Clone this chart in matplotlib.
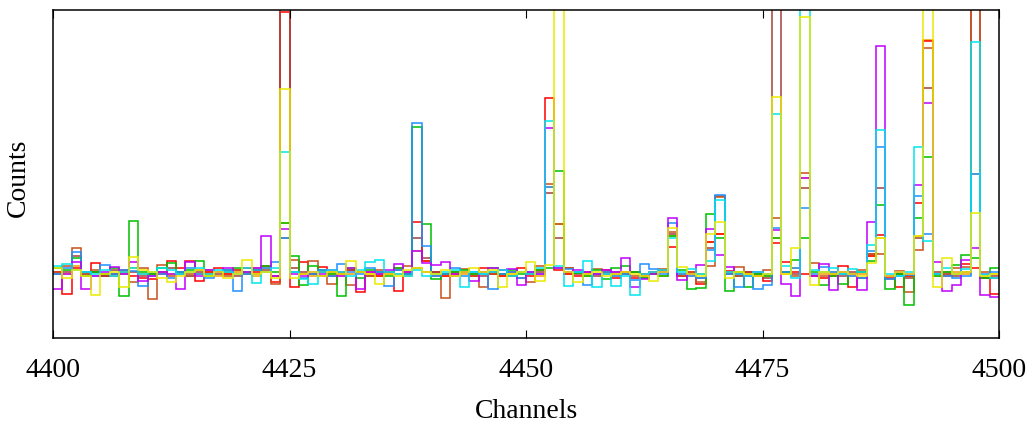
import numpy as np
import matplotlib
matplotlib.use("Agg")
import matplotlib.pyplot as plt

# channel bins 4400..4500, one count per bin (arbitrary units)
edges = np.arange(4400, 4501)

orange = [66, 64, 72, 64, 66, 62, 64, 66, 70, 64, 62, 66, 64, 66, 62, 64, 66, 62, 64, 66,
          64, 62, 70, 62, 115, 66, 64, 62, 66, 64, 62, 64, 66, 64, 62, 66, 64, 62, 87, 77,
          64, 62, 66, 64, 62, 66, 64, 62, 64, 66, 64, 62, 151, 114, 64, 66, 62, 64, 66, 62,
          64, 66, 62, 64, 62, 102, 64, 62, 64, 96, 104, 64, 62, 64, 66, 62, 100, 64, 70, 160,
          62, 64, 66, 64, 62, 64, 82, 100, 62, 64, 62, 102, 298, 62, 64, 66, 64, 164, 62, 64]
sienna = [64, 66, 82, 64, 66, 62, 68, 64, 66, 62, 64, 66, 70, 64, 62, 66, 68, 64, 66, 62,
          66, 64, 68, 62, 400, 70, 66, 64, 62, 66, 64, 68, 66, 62, 64, 66, 68, 64, 100, 80,
          66, 64, 62, 66, 64, 62, 66, 64, 62, 60, 64, 66, 145, 100, 70, 64, 66, 62, 64, 66,
          64, 66, 62, 64, 66, 104, 62, 64, 60, 90, 142, 64, 62, 66, 64, 60, 400, 66, 64, 150,
          62, 66, 64, 62, 66, 60, 84, 150, 62, 64, 60, 100, 250, 66, 64, 62, 66, 400, 60, 62]
brown = [66, 72, 90, 66, 68, 64, 62, 66, 56, 70, 39, 73, 62, 66, 64, 68, 64, 66, 62, 68,
         64, 70, 66, 54, 100, 78, 64, 77, 66, 54, 64, 53, 66, 62, 68, 66, 70, 72, 70, 66,
         62, 40, 66, 69, 62, 51, 64, 68, 62, 66, 56, 72, 154, 114, 70, 66, 64, 69, 66, 64,
         66, 62, 60, 64, 69, 106, 62, 66, 56, 72, 141, 66, 71, 64, 62, 68, 120, 66, 62, 165,
         75, 62, 64, 66, 64, 68, 84, 84, 59, 67, 46, 88, 290, 64, 66, 70, 71, 400, 66, 60]
red = [66, 44, 70, 66, 75, 62, 64, 68, 62, 60, 59, 64, 77, 70, 77, 57, 66, 70, 64, 68,
       70, 66, 72, 56, 326, 51, 76, 64, 71, 62, 66, 68, 46, 66, 62, 64, 47, 66, 116, 77,
       66, 62, 64, 66, 62, 70, 64, 62, 66, 70, 62, 68, 240, 68, 64, 62, 66, 64, 68, 60,
       66, 60, 64, 66, 68, 91, 62, 66, 54, 96, 104, 67, 64, 66, 62, 57, 95, 76, 66, 64,
       62, 60, 62, 72, 51, 66, 82, 103, 60, 51, 62, 135, 297, 64, 62, 64, 74, 70, 60, 44]
green = [70, 68, 80, 62, 66, 64, 70, 42, 117, 66, 64, 70, 75, 66, 68, 77, 62, 66, 68, 70,
         66, 68, 72, 66, 115, 82, 53, 72, 68, 64, 42, 70, 60, 68, 66, 62, 70, 64, 211, 114,
         59, 64, 66, 68, 64, 66, 70, 64, 68, 64, 66, 68, 70, 167, 66, 65, 62, 68, 59, 70,
         72, 66, 60, 64, 62, 102, 68, 49, 50, 124, 100, 47, 66, 51, 64, 62, 100, 66, 78, 100,
         66, 53, 62, 54, 64, 66, 77, 133, 49, 64, 33, 120, 181, 62, 66, 73, 83, 80, 60, 70]
blue = [64, 70, 86, 66, 62, 73, 64, 68, 67, 52, 62, 64, 60, 66, 70, 64, 60, 66, 68, 47,
        64, 68, 70, 76, 100, 66, 60, 64, 68, 62, 74, 66, 64, 70, 66, 52, 68, 64, 215, 92,
        62, 64, 70, 62, 66, 64, 49, 64, 66, 60, 66, 64, 151, 70, 69, 66, 53, 64, 66, 62,
        64, 58, 74, 69, 64, 115, 64, 62, 60, 88, 143, 64, 51, 62, 49, 53, 110, 66, 70, 130,
        64, 71, 66, 64, 62, 60, 87, 191, 59, 62, 63, 142, 104, 64, 62, 60, 62, 164, 64, 66]
magenta = [49, 64, 76, 49, 62, 66, 71, 64, 76, 57, 62, 66, 64, 49, 76, 62, 68, 66, 70, 64,
           66, 70, 102, 62, 109, 64, 62, 66, 64, 68, 62, 70, 49, 66, 64, 68, 74, 66, 87, 75,
           73, 76, 64, 66, 57, 66, 70, 68, 69, 53, 66, 64, 210, 70, 66, 68, 66, 64, 68, 66,
           80, 51, 59, 64, 66, 120, 58, 64, 73, 109, 83, 71, 64, 62, 66, 64, 108, 54, 42, 160,
           62, 74, 48, 66, 64, 48, 116, 292, 62, 66, 64, 153, 235, 76, 47, 53, 78, 90, 43, 41]
cyan = [72, 74, 68, 66, 64, 68, 62, 66, 70, 64, 66, 70, 68, 64, 66, 70, 64, 68, 66, 64,
        70, 55, 66, 70, 186, 66, 59, 54, 66, 68, 66, 62, 68, 76, 78, 66, 64, 62, 68, 62,
        64, 66, 68, 51, 66, 64, 66, 68, 62, 66, 64, 70, 217, 72, 52, 66, 77, 51, 64, 52,
        62, 43, 64, 66, 68, 100, 66, 69, 64, 77, 138, 66, 64, 62, 66, 64, 224, 72, 60, 400,
        68, 66, 70, 64, 69, 66, 93, 208, 64, 62, 66, 191, 97, 64, 70, 64, 69, 296, 63, 60]
yellow = [70, 60, 68, 62, 43, 64, 66, 51, 81, 68, 66, 60, 56, 62, 66, 68, 62, 66, 60, 64,
          78, 64, 66, 60, 249, 60, 64, 66, 62, 66, 64, 77, 66, 64, 54, 64, 62, 68, 70, 66,
          64, 68, 62, 66, 70, 66, 68, 51, 64, 66, 76, 57, 73, 400, 66, 56, 64, 66, 62, 64,
          66, 64, 62, 57, 66, 110, 71, 64, 62, 104, 116, 60, 66, 64, 62, 64, 241, 64, 90, 321,
          53, 66, 64, 66, 64, 62, 75, 100, 62, 66, 64, 102, 400, 51, 80, 64, 66, 125, 62, 64]

# drawing order: later ones end up on top
series = [
    (orange, '#f0a000'),
    (red, '#ff0000'),
    (sienna, '#a0403c'),
    (brown, '#c8501e'),
    (green, '#00c000'),
    (blue, '#1e90ff'),
    (magenta, '#c000ff'),
    (cyan, '#00e5ee'),
    (yellow, '#eaea00'),
]

plt.rcParams['font.family'] = ['Liberation Serif', 'DejaVu Serif']

fig = plt.figure(figsize=(10.35, 4.27), dpi=100)
ax = fig.add_axes([53 / 1035, 88 / 427, 946 / 1035, 328 / 427])

for vals, col in series:
    ax.stairs(vals, edges, baseline=None, color=col, linewidth=1.1)

ax.set_xlim(4400, 4500)
ax.set_ylim(0, 328)
ax.set_xticks([4400, 4425, 4450, 4475, 4500])
ax.set_yticks([])
ax.tick_params(axis='x', direction='in', length=6, width=0.8, top=True,
               pad=14, labelsize=20)
for sp in ax.spines.values():
    sp.set_linewidth(1.1)
    sp.set_zorder(5)

ax.set_xlabel('Channels', fontsize=20, va='center')
ax.xaxis.set_label_coords(0.5, -0.22)
ax.set_ylabel('Counts', fontsize=20, va='center')
ax.yaxis.set_label_coords(-0.037, 0.49)

fig.savefig('out.png', dpi=100)
